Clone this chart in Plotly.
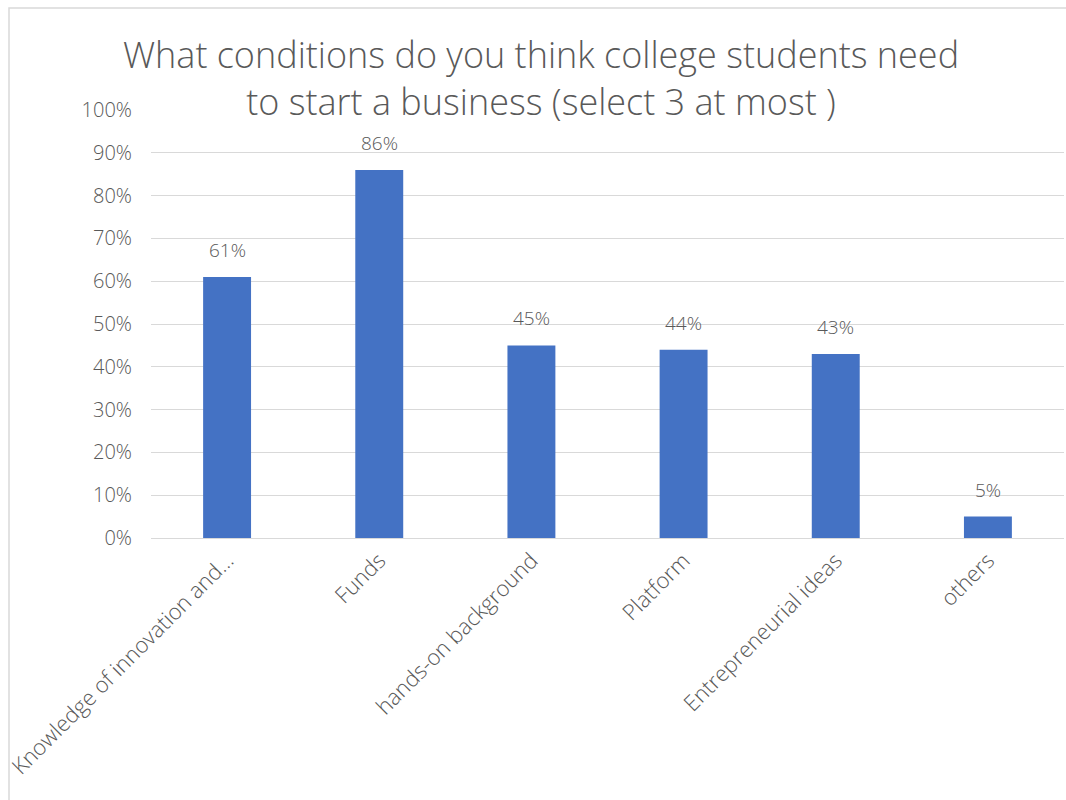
import plotly.graph_objects as go

categories = ["Knowledge of innovation and…", "Funds", "hands-on background",
              "Platform", "Entrepreneurial ideas", "others"]
values = [61, 86, 45, 44, 43, 5]
value_labels = ["61%", "86%", "45%", "44%", "43%", "5%"]
y_ticks = [0, 10, 20, 30, 40, 50, 60, 70, 80, 90, 100]
y_tick_labels = [f"{v}%" for v in y_ticks]

FONT = "Open Sans"
GRAY = "#595959"

fig = go.Figure(go.Bar(
    x=categories, y=values,
    marker=dict(color="#4472C4", line=dict(width=0)),
    hoverinfo="x+y",
))

L, R, T, B = 151, 2, 110, 262
W, H = 1066, 800
pw, ph = W - L - R, H - T - B

fig.update_layout(
    width=W, height=H,
    margin=dict(l=L, r=R, t=T, b=B),
    paper_bgcolor="white", plot_bgcolor="white",
    bargap=0.685,
    showlegend=False,
    title=dict(text="What conditions do you think college students need<br>to start a business (select 3 at most )",
               x=541 / W, xref="container", xanchor="center", y=1 - 68 / H, yanchor="middle",
               font=dict(family=FONT, size=36, color=GRAY, weight=300)),
    xaxis=dict(tickangle=-45, tickfont=dict(family=FONT, size=22, color=GRAY, weight=300),
               showline=True, linecolor="#d9d9d9", linewidth=1, ticks="",
               showgrid=False),
    yaxis=dict(range=[0, 100], tickvals=y_ticks, ticktext=y_tick_labels,
               tickfont=dict(family=FONT, size=20, color=GRAY, weight=300),
               showgrid=True, gridcolor="#d9d9d9", gridwidth=1,
               zeroline=False, showline=False, ticks="", ticklabelstandoff=18),
)

for c, v, t in zip(categories, values, value_labels):
    fig.add_annotation(x=c, y=v, text=t, showarrow=False, yanchor="middle", yshift=27,
                       font=dict(family=FONT, size=19, color=GRAY, weight=300))

# outer chart border (light gray), as in the reference
fig.add_shape(type="rect", xref="paper", yref="paper",
              x0=(9 - L) / pw, x1=(1075 - L) / pw,
              y0=(H - B - 810) / ph, y1=(H - B - 8) / ph,
              line=dict(color="#d9d9d9", width=1.5), fillcolor="rgba(0,0,0,0)", layer="below")

fig.write_html("out.html", config={"displayModeBar": False},
               post_script="document.body.style.margin='0';document.body.style.overflow='hidden';")
